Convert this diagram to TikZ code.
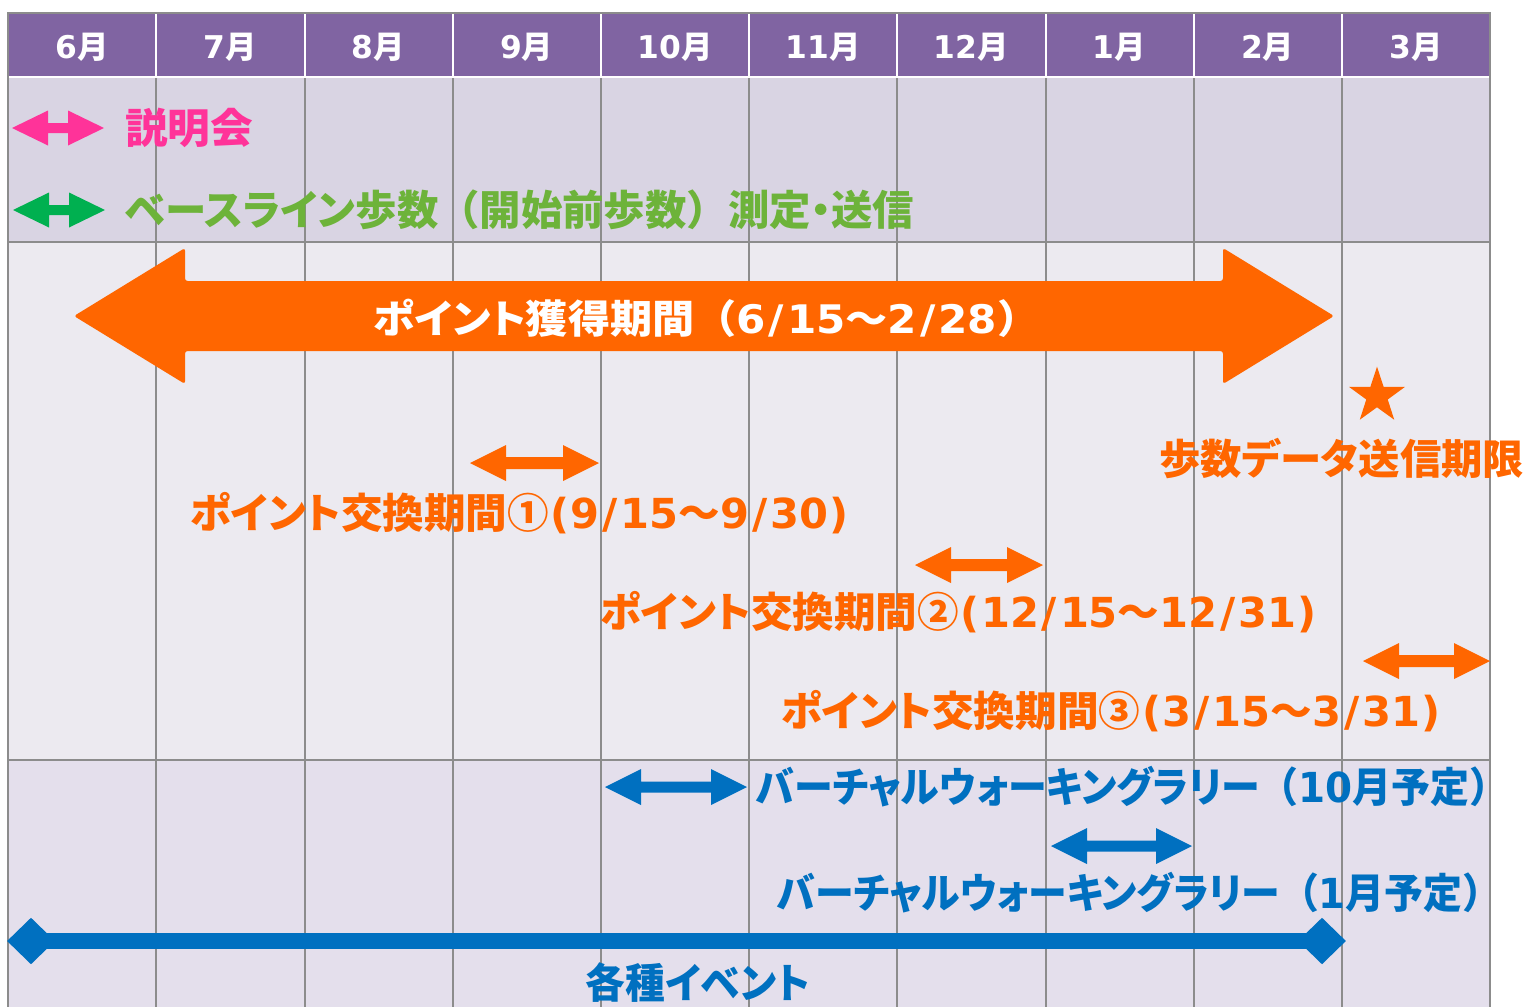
\documentclass[tikz,border=0pt]{standalone}
\usepackage{graphicx}
\usepackage{fontspec}
\setmainfont{DejaVu Sans}
\newfontfamily\jp{Noto Sans CJK JP}[RawFeature=+palt]
\newfontfamily\jpf{Noto Sans CJK JP}
\usetikzlibrary{shapes.geometric}
\definecolor{hdr}{HTML}{8064A2}
\definecolor{rowA}{HTML}{D9D4E3}
\definecolor{rowB}{HTML}{ECEAF0}
\definecolor{rowC}{HTML}{E4DFEC}
\definecolor{gridc}{HTML}{8C8C8C}
\definecolor{pinkc}{HTML}{FF3399}
\definecolor{greenA}{HTML}{00B050}
\definecolor{greenT}{HTML}{6DB33A}
\definecolor{orangec}{HTML}{FF6600}
\definecolor{bluec}{HTML}{0070C0}
\newcommand\J[1]{{\jp\bfseries #1}}
\newcommand\F[1]{{\jpf\bfseries #1}}
\newcommand\Sl{\kern0.07em/\kern0.07em}
\newcommand\Lp{\kern0.04em(\kern0.03em}
\newcommand\Rp{\kern0.03em)\kern0.04em}
% fit text to a width given in pixels, keeping its height
\newcommand\FW[2]{\resizebox{\dimexpr #1pt*3/4\relax}{\height}{#2}}
% x1, x2, y, half shaft, head length, half head, colour
\newcommand\DArrow[7]{%
  \fill[#7] (#1,#3) -- (#1+#5,#3-#6) -- (#1+#5,#3-#4) -- (#2-#5,#3-#4) -- (#2-#5,#3-#6)
    -- (#2,#3) -- (#2-#5,#3+#6) -- (#2-#5,#3+#4) -- (#1+#5,#3+#4) -- (#1+#5,#3+#6) -- cycle;}
\begin{document}
\begin{tikzpicture}[x=0.75pt,y=-0.75pt,
  hdrtext/.style={text=white,font=\fontsize{23.5}{27}\selectfont\bfseries,inner sep=0pt},
  lbl/.style={font=\fontsize{31}{36}\selectfont\bfseries,inner sep=0pt,anchor=west},
  gridline/.style={draw=gridc,line width=1.1pt}]
\useasboundingbox (0,0) rectangle (1525,1007);
\fill[white] (0,0) rectangle (1525,1007);
% bands
\fill[hdr] (8,13) rectangle (1490,77);
\fill[rowA] (8,77) rectangle (1490,242);
\fill[rowB] (8,242) rectangle (1490,760);
\fill[rowC] (8,760) rectangle (1490,1007);
% grid
\foreach \x in {156,305,453,601,749,897,1046,1194,1342} {
  \draw[white,line width=1.1pt] (\x,13) -- (\x,77);
  \draw[gridline] (\x,77) -- (\x,1007);
}
\draw[white,line width=1.1pt] (8,77) -- (1490,77);
\draw[gridline] (8,242) -- (1490,242);
\draw[gridline] (8,760) -- (1490,760);
\draw[gridline] (8,1007) -- (8,13) -- (1490,13) -- (1490,1007);
% header
\foreach \m [count=\i from 0] in {6,7,8,9,10,11,12,1,2,3}
  \node[hdrtext] (m\i) at ({8+148.2*(\i+0.5)},47) {\m\J{月}};
% row 1
\DArrow{12}{104}{128}{5}{36}{17.5}{pinkc}
\node[lbl,text=pinkc] (setsumei) at (125,128) {\FW{128}{\J{説明会}}};
\DArrow{13}{105}{210}{5}{36}{17.5}{greenA}
\node[lbl,text=greenT] (baseline) at (125,210) {\FW{789}{\J{ベースライン歩数}\F{（}\J{開始前歩数}\F{）}\J{測定・送信}}};
% row 2
\fill[orangec,rounded corners=2pt] (74,316) -- (185,248) -- (185,281) -- (1223,281) -- (1223,248)
  -- (1334,316) -- (1223,384) -- (1223,351) -- (185,351) -- (185,384) -- cycle;
\node[font=\fontsize{29.5}{34}\selectfont\bfseries,text=white,inner sep=0pt,anchor=west] (kakutoku) at (373,318)
  {\FW{666}{\J{ポイント獲得期間}\F{（}6\Sl15\F{～}2\Sl28\F{）}}};
\node[star,star points=5,star point ratio=2.6,fill=orangec,minimum size=44pt,inner sep=0pt] (star) at (1377,396) {};
\node[lbl,text=orangec] (kigen) at (1159,458) {\FW{365}{\J{歩数データ送信期限}}};
\DArrow{470}{599}{463}{6}{36}{18}{orangec}
\node[lbl,text=orangec] (p1) at (190,513) {\FW{660}{\J{ポイント交換期間①}\Lp9\Sl15\F{～}9\Sl30\Rp}};
\DArrow{915}{1043}{565}{6}{36}{18}{orangec}
\node[lbl,text=orangec] (p2) at (600,612) {\FW{718}{\J{ポイント交換期間②}\Lp12\Sl15\F{～}12\Sl31\Rp}};
\DArrow{1363}{1490}{661}{6}{36}{18}{orangec}
\node[lbl,text=orangec] (p3) at (781,711) {\FW{661}{\J{ポイント交換期間③}\Lp3\Sl15\F{～}3\Sl31\Rp}};
% row 3
\DArrow{605}{747}{787}{5.5}{36}{18}{bluec}
\node[lbl,text=bluec] (v1) at (756,787) {\FW{752}{\J{バーチャルウォーキングラリー}\F{（}10\J{月予定}\F{）}}};
\DArrow{1051}{1192}{846}{5.5}{36}{18}{bluec}
\node[lbl,text=bluec] (v2) at (777,893) {\FW{724}{\J{バーチャルウォーキングラリー}\F{（}1\J{月予定}\F{）}}};
\node[diamond,fill=bluec,minimum width=36pt,minimum height=35pt,inner sep=0pt] (dL) at (31,941) {};
\node[diamond,fill=bluec,minimum width=36pt,minimum height=35pt,inner sep=0pt] (dR) at (1322,941) {};
\draw[bluec,line width=12pt] (dL.center) -- (dR.center);
\node[font=\fontsize{31}{36}\selectfont\bfseries,text=bluec,inner sep=0pt] (events) at (698,983) {\FW{224}{\J{各種イベント}}};
\end{tikzpicture}
\end{document}
